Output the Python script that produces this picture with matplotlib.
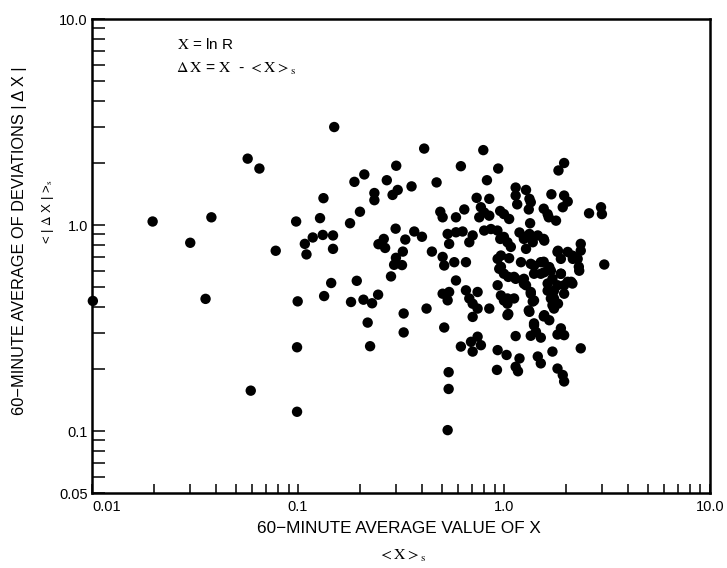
import matplotlib
matplotlib.use('Agg')
import matplotlib.pyplot as plt
from matplotlib.ticker import LogLocator, NullFormatter, FixedLocator, FixedFormatter

# ---- data ----
x_left = [0.150, 0.057, 0.065, 0.41, 0.30, 0.21, 0.188, 0.27, 0.356, 0.235, 0.235, 0.288, 0.305,
          0.133, 0.20, 0.0197, 0.038, 0.098, 0.128, 0.179, 0.298, 0.367, 0.40, 0.030, 0.078, 0.108,
          0.110, 0.118, 0.132, 0.148, 0.148, 0.246, 0.261, 0.265, 0.332, 0.323, 0.299, 0.293, 0.320,
          0.283, 0.447, 0.145, 0.193, 0.134, 0.245, 0.208, 0.229, 0.181, 0.0997, 0.0356, 0.0101,
          0.326, 0.421, 0.218, 0.326, 0.099, 0.224, 0.059, 0.099]
y_left = [2.99, 2.10, 1.88, 2.35, 1.94, 1.76, 1.62, 1.65, 1.54, 1.43, 1.32, 1.40, 1.48,
          1.35, 1.16, 1.04, 1.09, 1.04, 1.08, 1.02, 0.96, 0.93, 0.877, 0.82, 0.75, 0.81,
          0.72, 0.87, 0.895, 0.89, 0.766, 0.807, 0.856, 0.774, 0.85, 0.743, 0.693, 0.641, 0.639,
          0.563, 0.743, 0.523, 0.536, 0.452, 0.459, 0.434, 0.417, 0.423, 0.426, 0.438, 0.428,
          0.372, 0.393, 0.336, 0.301, 0.255, 0.258, 0.157, 0.124]

x_right = [0.794, 1.96, 1.84, 0.618, 0.938, 0.471, 0.827, 1.14, 1.28, 0.737, 0.849, 1.14, 1.33, 1.70,
           1.96, 2.04, 1.16, 1.35,
           0.491, 0.642, 0.773, 0.959, 1.32, 1.56, 1.93, 1.63, 2.59, 2.96, 2.99,
           0.504, 0.585, 0.759, 0.849, 1.06, 0.802, 1.0, 1.65, 1.79, 1.34,
           0.533, 0.585, 0.63, 0.802, 0.865, 0.93, 1.19, 1.33, 1.46, 1.57,
           0.542, 0.679, 0.705, 0.96, 1.04, 1.25, 1.38, 1.82, 2.04, 2.36, 2.36, 2.15,
           0.504, 0.574, 0.513, 0.654, 0.932, 0.967, 1.06, 1.21, 1.35, 1.51, 1.66, 1.89, 2.28, 2.32, 3.07,
           0.949, 1.0, 1.12, 1.25, 1.40, 1.57, 1.72, 1.89, 2.04, 2.15, 0.585,
           0.504, 0.542, 0.654, 0.745, 0.679, 0.705, 0.932, 0.967, 1.04, 1.12, 1.28, 1.35, 1.40, 1.63,
           1.72, 1.75, 1.82, 1.96,
           0.745, 0.849, 0.705, 1.04, 1.04, 1.33, 1.57, 1.72, 1.66,
           0.513, 1.40, 1.43, 1.14, 1.35, 1.51, 1.89, 1.96, 1.82,
           0.618, 0.705, 0.745, 0.773, 0.692, 0.932, 1.03, 1.72, 2.36,
           1.19, 1.14, 0.925, 1.46, 1.51, 1.82, 1.93, 0.539, 1.17,
           1.96, 0.539, 0.533, 0.533,
           1.69, 1.63, 1.75, 1.83, 1.75, 1.96, 2.12, 2.16, 2.31, 1.83, 1.25, 1.56, 1.28, 1.08, 1.0,
           1.40, 1.56, 1.25, 1.0,
           0.967, 1.05, 1.14, 1.35, 1.38, 1.32, 1.05, 1.56, 1.40, 1.69, 1.51, 1.89]
y_right = [2.31, 2.0, 1.84, 1.93, 1.88, 1.61, 1.65, 1.52, 1.48, 1.355, 1.34, 1.39, 1.34, 1.41,
           1.39, 1.30, 1.26, 1.29,
           1.16, 1.19, 1.22, 1.17, 1.19, 1.20, 1.22, 1.13, 1.14, 1.22, 1.13,
           1.09, 1.09, 1.09, 1.11, 1.07, 1.15, 1.13, 1.09, 1.05, 1.02,
           0.905, 0.922, 0.93, 0.94, 0.956, 0.94, 0.92, 0.905, 0.89, 0.84,
           0.81, 0.825, 0.89, 0.856, 0.825, 0.856, 0.825, 0.74, 0.74, 0.81, 0.751, 0.71,
           0.70, 0.66, 0.636, 0.66, 0.685, 0.711, 0.69, 0.66, 0.648, 0.66, 0.625, 0.685, 0.685, 0.60, 0.643,
           0.613, 0.58, 0.56, 0.548, 0.58, 0.59, 0.548, 0.58, 0.53, 0.52, 0.538,
           0.464, 0.473, 0.482, 0.473, 0.44, 0.415, 0.51, 0.455, 0.44, 0.44, 0.51, 0.473, 0.43, 0.48,
           0.464, 0.44, 0.51, 0.51,
           0.393, 0.393, 0.358, 0.415, 0.365, 0.379, 0.365, 0.408, 0.345,
           0.318, 0.326, 0.303, 0.289, 0.29, 0.284, 0.315, 0.292, 0.294,
           0.257, 0.243, 0.287, 0.261, 0.271, 0.247, 0.234, 0.243, 0.252,
           0.225, 0.205, 0.198, 0.23, 0.213, 0.201, 0.187, 0.193, 0.195,
           0.174, 0.16, 0.101, 0.431,
           0.60, 0.52, 0.48, 0.415, 0.393, 0.464, 0.53, 0.685, 0.627, 0.75, 0.875, 0.856, 0.766, 0.783, 0.875,
           0.634, 0.663, 0.519, 0.43,
           0.627, 0.56, 0.548, 0.464, 0.425, 0.385, 0.37, 0.36, 0.333, 0.44, 0.58, 0.58]

x_ticks = [0.01, 0.1, 1.0, 10.0]
x_tick_labels = ['0.01', '0.1', '1.0', '10.0']
y_ticks = [0.05, 0.1, 1.0, 10.0]
y_tick_labels = ['0.05', '0.1', '1.0', '10.0']

# ---- figure ----
plt.rcParams['font.family'] = ['Liberation Sans', 'DejaVu Sans']
plt.rcParams['mathtext.fontset'] = 'stix'

fig = plt.figure(figsize=(7.27, 5.68), dpi=100)
ax = fig.add_axes([0.1265, 0.132, 0.850, 0.8345])
ax.set_xscale('log')
ax.set_yscale('log')
ax.set_xlim(0.01, 10)
ax.set_ylim(0.05, 10)

ax.scatter(x_left + x_right, y_left + y_right, s=56, c='black', edgecolors='none',
           clip_on=False, zorder=3)

ax.xaxis.set_major_locator(FixedLocator(x_ticks))
ax.xaxis.set_major_formatter(FixedFormatter(x_tick_labels))
ax.yaxis.set_major_locator(FixedLocator(y_ticks))
ax.yaxis.set_major_formatter(FixedFormatter(y_tick_labels))
ax.xaxis.set_minor_locator(LogLocator(base=10, subs=range(2, 10)))
ax.yaxis.set_minor_locator(LogLocator(base=10, subs=range(2, 10)))
ax.xaxis.set_minor_formatter(NullFormatter())
ax.yaxis.set_minor_formatter(NullFormatter())

ax.tick_params(axis='both', which='both', direction='in', top=False, right=False,
               width=1.1, color='black', labelsize=10.5)
ax.tick_params(axis='y', which='both', length=9, pad=3)
ax.tick_params(axis='x', which='both', length=6.5, pad=5)
for sp in ax.spines.values():
    sp.set_linewidth(1.8)

ax.get_xticklabels()[0].set_horizontalalignment('left')

fig.text(0.549, 0.0695, '60\u2212MINUTE AVERAGE VALUE OF X', ha='center', va='center', fontsize=12.3)
fig.text(0.553, 0.021, r'$< \mathrm{X} >_\mathrm{s}$', ha='center', va='center', fontsize=11.5)

fig.text(0.0275, 0.5757, '60\u2212MINUTE AVERAGE OF DEVIATIONS | \u0394 X |', rotation=90,
         ha='center', va='center', fontsize=11.8)
fig.text(0.066, 0.627, r'< | $\Delta$ X | >$_\mathrm{s}$', rotation=90,
         ha='center', va='center', fontsize=9.5)

fig.text(0.2435, 0.9225, r'$\mathrm{X}$ = ln R', ha='left', va='center', fontsize=11)
fig.text(0.2421, 0.8785, r'$\Delta\,\mathrm{X}$ = $\mathrm{X}$  - $<\mathrm{X}>_\mathrm{s}$',
         ha='left', va='center', fontsize=11.3)

fig.savefig('out.png', dpi=100)
